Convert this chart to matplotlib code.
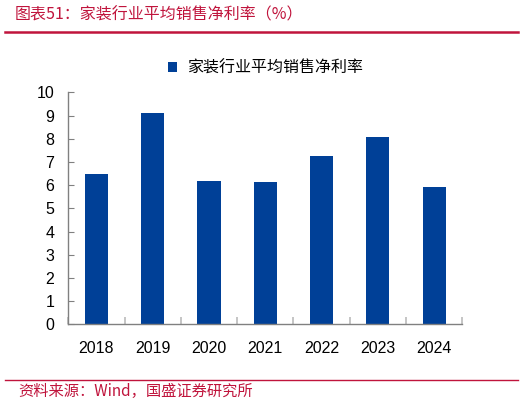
import matplotlib.pyplot as plt
import numpy as np
from matplotlib.lines import Line2D

years = ["2018", "2019", "2020", "2021", "2022", "2023", "2024"]
net_margin = [6.47, 9.10, 6.18, 6.13, 7.25, 8.07, 5.92]
series_name = "家装行业平均销售净利率"
title = "图表51：家装行业平均销售净利率（%）"
source = "资料来源：Wind，国盛证券研究所"

plt.rcParams['font.family'] = ['Liberation Sans', 'Noto Sans CJK SC', 'DejaVu Sans']

red = '#C0143C'
blue = '#004097'
grey = '#808080'

fig = plt.figure(figsize=(5.31, 4.04), dpi=100)
ax = fig.add_axes([0.1286, 0.1973, 0.742, 0.5742])

x = np.arange(len(years))
ax.bar(x, net_margin, width=0.41, color=blue, label=series_name)

ax.set_xlim(-0.5, len(years) - 0.5)
ax.set_ylim(0, 10)
ax.set_yticks(range(0, 11))
ax.set_xticks(x)
ax.set_xticklabels(years)
ax.set_xticks(np.arange(-0.5, len(years)), minor=True)

for s in ['top', 'right']:
    ax.spines[s].set_visible(False)
for s in ['left', 'bottom']:
    ax.spines[s].set_color(grey)
    ax.spines[s].set_linewidth(1.0)

ax.tick_params(axis='y', direction='in', length=4, color=grey, labelsize=11.5, pad=10)
ax.tick_params(axis='x', which='major', length=0, labelsize=11.5, pad=12)
ax.tick_params(axis='x', which='minor', direction='in', length=5, color='#BBBBBB', width=1.2)

ax.legend(loc='center', bbox_to_anchor=(0.5, 1.103), frameon=False,
          handlelength=0.6, handleheight=0.6, handletextpad=0.6,
          prop={'family': ['Noto Sans CJK SC'], 'size': 11.5})

# header and footer
fig.text(0.028, 0.962, title, color=red, fontsize=11.5, style='italic',
         family=['Noto Sans CJK SC', 'DejaVu Sans'], va='center', ha='left')
fig.add_artist(Line2D([0.01, 0.975], [0.921, 0.921], color=red, linewidth=1.8,
                      transform=fig.transFigure))
fig.add_artist(Line2D([0.01, 0.975], [0.06, 0.06], color=red, linewidth=1.0,
                      transform=fig.transFigure))
fig.text(0.034, 0.03, source, color=red, fontsize=11, style='italic',
         family=['Noto Sans CJK SC', 'DejaVu Sans'], va='center', ha='left')

fig.savefig('out.png', dpi=100)
